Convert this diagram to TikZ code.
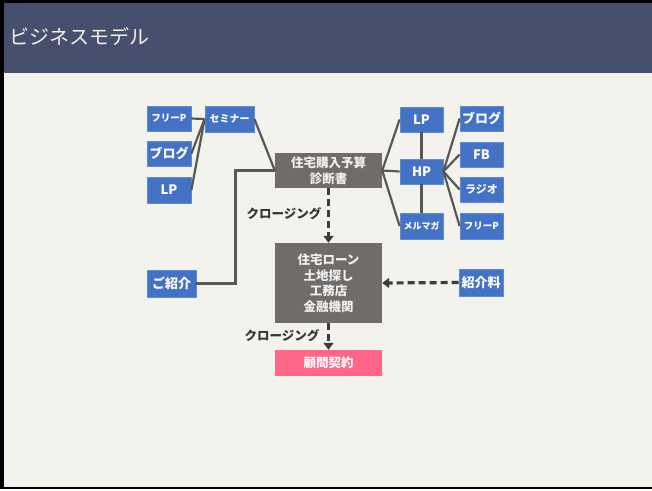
\documentclass[tikz,border=0pt]{standalone}
\usepackage{fontspec}
\setmainfont{Noto Sans CJK JP}
\usetikzlibrary{arrows.meta}
\definecolor{titlebar}{HTML}{46506E}
\definecolor{titletext}{HTML}{F6F1E6}
\definecolor{paper}{HTML}{F3F2EC}
\definecolor{boxblue}{HTML}{4472C4}
\definecolor{boxblueedge}{HTML}{5F8BD6}
\definecolor{boxgray}{HTML}{706C6A}
\definecolor{boxpink}{HTML}{FF6688}
\definecolor{linkgray}{HTML}{575757}
\definecolor{dashgray}{HTML}{3D3D3D}
\definecolor{labelgray}{HTML}{363636}
\begin{document}
\begin{tikzpicture}[x=1pt,y=-1pt,
  bluebox/.style={draw=boxblueedge,line width=0.8pt,fill=boxblue,text=white,font=\bfseries\fontsize{13}{15}\selectfont,inner sep=0pt,anchor=center},
  graybox/.style={fill=boxgray,text=white!94!black,font=\bfseries\fontsize{12.5}{15.5}\selectfont,inner sep=0pt,align=center},
  pinkbox/.style={fill=boxpink,text=white,font=\bfseries\fontsize{12.5}{15}\selectfont,inner sep=0pt},
  link/.style={draw=linkgray,line width=2.2pt},
  dasharrow/.style={draw=dashgray,line width=3.2pt,dash pattern=on 7pt off 4pt,-{Triangle[width=10pt,length=7pt]}},
  closing/.style={text=labelgray,font=\bfseries\fontsize{12.5}{15}\selectfont,inner sep=0pt}]
\useasboundingbox (0,0) rectangle (652,490);
\fill[black] (0,0) rectangle (652,490);
\fill[paper] (4,3) rectangle (652,486.5);
\fill[white] (0,488.5) rectangle (652,490);
\fill[titlebar] (4,3) rectangle (652,73);
\node[anchor=west,text=titletext,font=\fontsize{20}{23}\selectfont,inner sep=0pt] (title) at (9,37) {ビジネスモデル};
% left side
\node[bluebox,minimum width=44pt,minimum height=25pt,font=\bfseries\fontsize{9.5}{11}\selectfont] (fp1) at (169,118.5) {フリーP};
\node[bluebox,minimum width=44pt,minimum height=25pt] (blog1) at (169,153.5) {ブログ};
\node[bluebox,minimum width=44pt,minimum height=26pt] (lp1) at (169,190) {LP};
\node[bluebox,minimum width=49pt,minimum height=26pt,font=\bfseries\fontsize{10}{12}\selectfont] (sem) at (229.5,119) {セミナー};
\node[graybox,minimum width=107pt,minimum height=35pt] (diag) at (328.5,170.5) {住宅購入予算\\診断書};
\node[bluebox,minimum width=49pt,minimum height=27pt] (intro) at (171.5,283.5) {ご紹介};
% right side
\node[bluebox,minimum width=43pt,minimum height=25pt] (lp2) at (421.5,119.5) {LP};
\node[bluebox,minimum width=43pt,minimum height=25pt] (hp) at (421.5,171.5) {HP};
\node[bluebox,minimum width=43pt,minimum height=26pt,font=\bfseries\fontsize{9}{11}\selectfont] (mm) at (421.5,226) {メルマガ};
\node[bluebox,minimum width=43pt,minimum height=25pt] (blog2) at (481.5,118.5) {ブログ};
\node[bluebox,minimum width=43pt,minimum height=25pt] (fb) at (481.5,154.5) {FB};
\node[bluebox,minimum width=43pt,minimum height=25pt,font=\bfseries\fontsize{11}{13}\selectfont] (radio) at (481.5,189.5) {ラジオ};
\node[bluebox,minimum width=43pt,minimum height=26pt,font=\bfseries\fontsize{9.5}{11}\selectfont] (fp2) at (481.5,226) {フリーP};
% center
\node[graybox,minimum width=107pt,minimum height=80pt] (loan) at (328.5,283) {住宅ローン\\土地探し\\工務店\\金融機関};
\node[bluebox,minimum width=44pt,minimum height=27pt] (fee) at (481,282.5) {紹介料};
\node[pinkbox,minimum width=107pt,minimum height=26pt] (contract) at (328.5,363) {顧問契約};
\node[closing] (cl1) at (284,214) {クロージング};
\node[closing] (cl2) at (282,336) {クロージング};
% connectors
\draw[link] (fp1.east) -- (sem.west);
\draw[link] (blog1.east) -- (sem.west);
\draw[link] (lp1.east) -- (sem.west);
\draw[link] (sem.east) -- (diag.west);
\draw[link] (intro.east) -- ++(39,0) |- (diag.west);
\draw[link] (diag.east) -- (lp2.west);
\draw[link] (diag.east) -- (hp.west);
\draw[link] (diag.east) -- (mm.west);
\draw[link] (lp2.south) -- (hp.north);
\draw[link] (hp.south) -- (mm.north);
\draw[link] (hp.east) -- (blog2.west);
\draw[link] (hp.east) -- (fb.west);
\draw[link] (hp.east) -- (radio.west);
\draw[link] (hp.east) -- (fp2.west);
\draw[dasharrow] (diag.south) -- (loan.north);
\draw[dasharrow] (loan.south) -- (contract.north);
\draw[dasharrow] (fee.west) -- (loan.east);
\end{tikzpicture}
\end{document}
